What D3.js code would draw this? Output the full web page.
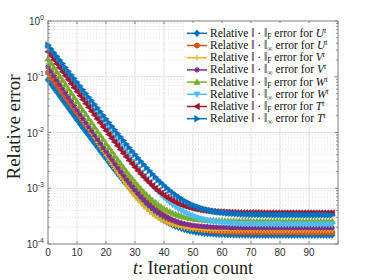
<!DOCTYPE html>
<html>
<head>
<meta charset="utf-8">
<script src="https://cdn.jsdelivr.net/npm/d3@7"></script>
<style>
body { margin:0; background:#fff; }
</style>
</head>
<body>
<div id="chart"></div>
<script>
let chart_width = 374;
let chart_height = 280;

let xTicks = [0,10,20,30,40,50,60,70,80,90];
let yTicks = [1e-4,1e-3,1e-2,1e-1,1];
let yTickExp = ['-4','-3','-2','-1','0'];

// relative errors per iteration t = 0..98
let errUF = [0.088,0.0746,0.0633,0.0537,0.0456,0.0387,0.0328,0.0278,0.0236,0.02,0.017,0.0144,0.0122,0.0104,
  8.95e-3,7.61e-3,6.48e-3,5.52e-3,4.71e-3,4.02e-3,3.43e-3,2.93e-3,2.51e-3,2.15e-3,1.85e-3,1.59e-3,1.37e-3,1.19e-3,
  1.03e-3,8.91e-4,7.78e-4,6.82e-4,6.01e-4,5.32e-4,4.73e-4,4.23e-4,3.81e-4,3.45e-4,3.15e-4,2.89e-4,2.67e-4,2.49e-4,
  2.33e-4,2.2e-4,2.08e-4,1.99e-4,1.91e-4,1.84e-4,1.78e-4,1.73e-4,1.69e-4,1.65e-4,1.62e-4,1.59e-4,1.57e-4,1.55e-4,
  1.54e-4,1.53e-4,1.51e-4,1.5e-4,1.5e-4,1.49e-4,1.48e-4,1.48e-4,1.47e-4,1.47e-4,1.47e-4,1.46e-4,1.46e-4,1.46e-4,
  1.45e-4,1.45e-4,1.45e-4,1.45e-4,1.45e-4,1.45e-4,1.45e-4,1.45e-4,1.45e-4,1.45e-4,1.45e-4,1.45e-4,1.45e-4,1.45e-4,1.45e-4,
  1.45e-4,1.45e-4,1.45e-4,1.45e-4,1.45e-4,1.45e-4,1.45e-4,1.45e-4,1.45e-4,1.45e-4,1.45e-4,1.45e-4,1.45e-4,1.45e-4];

let errUinf = [0.118,0.1,0.0849,0.072,0.0611,0.0518,0.044,0.0373,0.0317,0.0269,0.0228,0.0193,0.0164,0.0139,
  0.012,0.0102,8.65e-3,7.36e-3,6.27e-3,5.34e-3,4.56e-3,3.89e-3,3.33e-3,2.85e-3,2.44e-3,2.09e-3,1.8e-3,1.55e-3,
  1.34e-3,1.16e-3,1.01e-3,8.82e-4,7.73e-4,6.8e-4,6.02e-4,5.35e-4,4.79e-4,4.31e-4,3.9e-4,3.55e-4,3.26e-4,3.01e-4,
  2.8e-4,2.62e-4,2.47e-4,2.34e-4,2.23e-4,2.14e-4,2.06e-4,1.99e-4,1.94e-4,1.89e-4,1.85e-4,1.81e-4,1.78e-4,1.76e-4,
  1.74e-4,1.72e-4,1.7e-4,1.69e-4,1.68e-4,1.67e-4,1.66e-4,1.66e-4,1.65e-4,1.65e-4,1.64e-4,1.64e-4,1.64e-4,1.63e-4,
  1.62e-4,1.62e-4,1.62e-4,1.62e-4,1.62e-4,1.62e-4,1.62e-4,1.62e-4,1.62e-4,1.62e-4,1.62e-4,1.62e-4,1.62e-4,1.62e-4,1.62e-4,
  1.62e-4,1.62e-4,1.62e-4,1.62e-4,1.62e-4,1.62e-4,1.62e-4,1.62e-4,1.62e-4,1.62e-4,1.62e-4,1.62e-4,1.62e-4,1.62e-4];

let errVF = [0.17,0.14,0.116,0.0956,0.0789,0.0651,0.0538,0.0444,0.0366,0.0302,0.025,0.0206,
  0.0172,0.0142,0.0118,9.74e-3,8.07e-3,6.69e-3,5.56e-3,4.62e-3,3.84e-3,3.2e-3,2.68e-3,2.24e-3,
  1.88e-3,1.58e-3,1.33e-3,1.13e-3,9.64e-4,8.26e-4,7.13e-4,6.19e-4,5.41e-4,4.77e-4,4.25e-4,3.81e-4,
  3.45e-4,3.15e-4,2.91e-4,2.71e-4,2.54e-4,2.4e-4,2.29e-4,2.19e-4,2.12e-4,2.05e-4,2e-4,1.96e-4,
  1.92e-4,1.89e-4,1.87e-4,1.85e-4,1.83e-4,1.82e-4,1.8e-4,1.79e-4,1.79e-4,1.78e-4,1.78e-4,1.77e-4,
  1.77e-4,1.76e-4,1.76e-4,
  1.75e-4,1.75e-4,1.75e-4,1.75e-4,1.75e-4,1.75e-4,1.75e-4,1.75e-4,1.75e-4,1.75e-4,1.75e-4,1.75e-4,
  1.75e-4,1.75e-4,1.75e-4,1.75e-4,1.75e-4,1.75e-4,1.75e-4,1.75e-4,1.75e-4,1.75e-4,1.75e-4,1.75e-4,
  1.75e-4,1.75e-4,1.75e-4,1.75e-4,1.75e-4,1.75e-4,1.75e-4,1.75e-4,1.75e-4,1.75e-4,1.75e-4,1.75e-4];

let errVinf = [0.15,0.126,0.105,0.0882,0.0739,0.0619,0.0518,0.0434,0.0364,0.0305,0.0255,0.0214,0.0179,
  0.0152,0.0128,0.0107,9.02e-3,7.59e-3,6.39e-3,5.38e-3,4.54e-3,3.84e-3,3.25e-3,2.75e-3,2.34e-3,1.99e-3,
  1.7e-3,1.45e-3,1.25e-3,1.08e-3,9.34e-4,8.14e-4,7.13e-4,6.29e-4,5.59e-4,5e-4,4.5e-4,4.09e-4,3.74e-4,
  3.45e-4,3.21e-4,3e-4,2.83e-4,2.69e-4,2.57e-4,2.47e-4,2.38e-4,2.31e-4,2.26e-4,2.21e-4,2.16e-4,2.13e-4,
  2.1e-4,2.08e-4,2.06e-4,2.04e-4,2.02e-4,2.01e-4,2e-4,1.99e-4,1.99e-4,1.98e-4,1.98e-4,1.97e-4,1.97e-4,
  1.96e-4,1.96e-4,1.95e-4,1.95e-4,1.95e-4,1.95e-4,1.95e-4,1.95e-4,1.95e-4,1.95e-4,1.95e-4,1.95e-4,
  1.95e-4,1.95e-4,1.95e-4,1.95e-4,1.95e-4,1.95e-4,1.95e-4,1.95e-4,1.95e-4,1.95e-4,1.95e-4,1.95e-4,
  1.95e-4,1.95e-4,1.95e-4,1.95e-4,1.95e-4,1.95e-4,1.95e-4,1.95e-4,1.95e-4,1.95e-4];

let errWF = [0.21,0.176,0.147,0.123,0.103,0.0866,0.0726,0.0608,0.0509,0.0427,0.0357,0.0299,0.0251,
  0.0213,0.0178,0.015,0.0126,0.0106,8.92e-3,7.52e-3,6.34e-3,5.35e-3,4.53e-3,3.83e-3,3.25e-3,2.77e-3,
  2.36e-3,2.01e-3,1.73e-3,1.49e-3,1.29e-3,1.12e-3,9.81e-4,8.63e-4,7.64e-4,6.82e-4,6.12e-4,5.54e-4,5.06e-4,
  4.65e-4,4.31e-4,4.02e-4,3.78e-4,3.58e-4,3.42e-4,3.28e-4,3.16e-4,3.06e-4,2.98e-4,2.91e-4,2.85e-4,2.8e-4,
  2.76e-4,2.73e-4,2.7e-4,2.67e-4,2.65e-4,2.64e-4,2.62e-4,2.61e-4,2.6e-4,2.59e-4,2.59e-4,2.58e-4,2.58e-4,
  2.57e-4,2.57e-4,2.56e-4,2.56e-4,2.56e-4,
  2.55e-4,2.55e-4,2.55e-4,2.55e-4,2.55e-4,2.55e-4,2.55e-4,2.55e-4,2.55e-4,2.55e-4,2.55e-4,2.55e-4,2.55e-4,2.55e-4,2.55e-4,
  2.55e-4,2.55e-4,2.55e-4,2.55e-4,2.55e-4,2.55e-4,2.55e-4,2.55e-4,2.55e-4,2.55e-4,2.55e-4,2.55e-4,2.55e-4,2.55e-4];

let errWinf = [0.33,0.28,0.238,0.202,0.171,0.145,0.123,0.104,0.0885,0.0751,0.0637,0.0541,0.0458,0.0389,
  0.0332,0.0282,0.024,0.0204,0.0173,0.0147,0.0125,0.0107,9.08e-3,7.74e-3,6.6e-3,5.64e-3,4.81e-3,4.12e-3,
  3.53e-3,3.03e-3,2.6e-3,2.24e-3,1.93e-3,1.68e-3,1.46e-3,1.27e-3,1.11e-3,9.76e-4,8.62e-4,7.66e-4,6.83e-4,6.14e-4,
  5.55e-4,5.05e-4,4.63e-4,4.27e-4,3.96e-4,3.7e-4,3.48e-4,3.29e-4,3.14e-4,3e-4,2.89e-4,2.79e-4,2.71e-4,2.64e-4,
  2.58e-4,2.53e-4,2.49e-4,2.45e-4,2.42e-4,2.4e-4,2.37e-4,2.35e-4,2.34e-4,2.33e-4,2.31e-4,2.3e-4,2.3e-4,2.29e-4,
  2.28e-4,2.28e-4,2.27e-4,2.27e-4,2.27e-4,2.26e-4,2.26e-4,2.26e-4,2.26e-4,2.26e-4,2.26e-4,2.25e-4,2.25e-4,2.25e-4,
  2.25e-4,2.25e-4,2.25e-4,2.25e-4,2.25e-4,2.25e-4,2.25e-4,2.25e-4,2.25e-4,2.25e-4,2.25e-4,2.25e-4,2.25e-4,2.25e-4,2.25e-4];

let errTF = [0.28,0.238,0.202,0.171,0.145,0.123,0.104,0.0885,0.0751,0.0637,0.0541,0.0459,0.0389,0.033,
  0.0284,0.0241,0.0205,0.0175,0.0149,0.0127,0.0108,9.21e-3,7.87e-3,6.73e-3,5.77e-3,4.95e-3,4.25e-3,3.66e-3,
  3.16e-3,2.74e-3,2.38e-3,2.07e-3,1.81e-3,1.59e-3,1.4e-3,1.25e-3,1.11e-3,9.97e-4,9.01e-4,8.19e-4,7.49e-4,6.9e-4,
  6.4e-4,5.98e-4,5.62e-4,5.31e-4,5.05e-4,4.83e-4,4.64e-4,4.49e-4,4.35e-4,4.24e-4,4.14e-4,4.06e-4,3.99e-4,3.93e-4,
  3.88e-4,3.84e-4,3.8e-4,3.77e-4,3.75e-4,3.72e-4,3.7e-4,3.69e-4,3.68e-4,3.66e-4,3.65e-4,3.65e-4,3.64e-4,3.63e-4,
  3.63e-4,3.62e-4,3.62e-4,3.62e-4,3.61e-4,3.61e-4,3.61e-4,
  3.6e-4,3.6e-4,3.6e-4,3.6e-4,3.6e-4,3.6e-4,3.6e-4,3.6e-4,3.6e-4,3.6e-4,3.6e-4,
  3.6e-4,3.6e-4,3.6e-4,3.6e-4,3.6e-4,3.6e-4,3.6e-4,3.6e-4,3.6e-4,3.6e-4,3.6e-4];

let errTinf = [0.37,0.317,0.272,0.233,0.2,0.172,0.147,0.126,0.108,0.0929,0.0797,0.0684,0.0586,0.0503,0.0431,
  0.0373,0.0321,0.0276,0.0237,0.0203,0.0175,0.0151,0.013,0.0112,9.62e-3,8.3e-3,7.17e-3,6.19e-3,5.36e-3,4.64e-3,
  4.03e-3,3.5e-3,3.05e-3,2.67e-3,2.33e-3,2.05e-3,1.8e-3,1.59e-3,1.41e-3,1.26e-3,1.13e-3,1.01e-3,9.16e-4,8.33e-4,7.61e-4,
  7e-4,6.47e-4,6.02e-4,5.63e-4,5.3e-4,5.02e-4,4.77e-4,4.56e-4,4.38e-4,4.23e-4,4.1e-4,3.98e-4,3.89e-4,3.8e-4,3.73e-4,
  3.67e-4,3.62e-4,3.57e-4,3.53e-4,3.5e-4,3.47e-4,3.45e-4,3.43e-4,3.41e-4,3.39e-4,3.38e-4,3.37e-4,3.36e-4,3.35e-4,3.34e-4,
  3.34e-4,3.33e-4,3.33e-4,3.32e-4,3.32e-4,3.32e-4,3.31e-4,3.31e-4,3.31e-4,3.31e-4,3.31e-4,3.31e-4,
  3.3e-4,3.3e-4,3.3e-4,3.3e-4,3.3e-4,3.3e-4,3.3e-4,3.3e-4,3.3e-4,3.3e-4,3.3e-4,3.3e-4];

let seriesData = [errUF, errUinf, errVF, errVinf, errWF, errWinf, errTF, errTinf];
let seriesColors = ['#0072BD','#D95319','#EDB120','#7E2F8E','#77AC30','#4DBEEE','#A2142F','#0072BD'];
let seriesMarkers = ['diamond','circle','plus','star','up','down','left','right'];
let legendNorm = ['F','\u221E','F','\u221E','F','\u221E','F','\u221E'];
let legendVar = ['U','U','V','V','W','W','T','T'];

let plot = {left:48, right:338, top:21, bottom:244};

let xScale = d3.scaleLinear().domain([0,100]).range([plot.left, plot.right]);
let yScale = d3.scaleLog().domain([1e-4,1]).range([plot.bottom, plot.top]);

let svg = d3.select('#chart')
    .append('svg')
    .attr('width', chart_width)
    .attr('height', chart_height)
    .style('background','#fff');

function markerPath(type, r){
    if(type==='diamond') return `M0,${-r*1.1}L${r*0.9},0L0,${r*1.1}L${-r*0.9},0Z`;
    if(type==='up') return `M0,${-r}L${r},${r*0.75}L${-r},${r*0.75}Z`;
    if(type==='down') return `M0,${r}L${r},${-r*0.75}L${-r},${-r*0.75}Z`;
    if(type==='left') return `M${-r},0L${r*0.75},${-r}L${r*0.75},${r}Z`;
    if(type==='right') return `M${r},0L${-r*0.75},${-r}L${-r*0.75},${r}Z`;
    if(type==='plus') return `M${-r},0H${r}M0,${-r}V${r}`;
    if(type==='star') return `M${-r},0H${r}M0,${-r}V${r}M${-r*0.7},${-r*0.7}L${r*0.7},${r*0.7}M${-r*0.7},${r*0.7}L${r*0.7},${-r*0.7}`;
    return '';
}

function drawMarker(sel, type, color){
    if(type==='circle'){
        sel.append('circle').attr('r',2.6).attr('fill',color).attr('stroke',color).attr('stroke-width',0.8);
    } else if(type==='plus' || type==='star'){
        sel.append('path').attr('d',markerPath(type,2.8)).attr('fill','none').attr('stroke',color).attr('stroke-width',1.2);
    } else {
        sel.append('path').attr('d',markerPath(type,3.2)).attr('fill',color).attr('stroke',color).attr('stroke-width',0.6);
    }
}

// grid
let grid = svg.append('g').attr('class','grid');
xTicks.concat([100]).forEach(function(t){
    grid.append('line')
        .attr('x1',xScale(t)).attr('x2',xScale(t))
        .attr('y1',plot.top).attr('y2',plot.bottom)
        .attr('stroke','#e3e3e3').attr('stroke-width',1);
});
yTicks.forEach(function(v, i){
    grid.append('line')
        .attr('x1',plot.left).attr('x2',plot.right)
        .attr('y1',yScale(v)).attr('y2',yScale(v))
        .attr('stroke','#e3e3e3').attr('stroke-width',1);
    if(i < yTicks.length-1){
        for(let m=2;m<=9;m++){
            let yy = yScale(v*m);
            grid.append('line')
                .attr('x1',plot.left).attr('x2',plot.right)
                .attr('y1',yy).attr('y2',yy)
                .attr('stroke','#d8d8d8').attr('stroke-width',0.8)
                .attr('stroke-dasharray','1,2');
        }
    }
});

// series
let line = d3.line()
    .x((d,i)=>xScale(i))
    .y(d=>yScale(d));

seriesData.forEach(function(values, s){
    let g = svg.append('g').attr('class','series'+s);
    g.append('path')
        .datum(values)
        .attr('d', line)
        .attr('fill','none')
        .attr('stroke', seriesColors[s])
        .attr('stroke-width',1.5);
    let marks = g.selectAll('g.mk')
        .data(values)
        .enter()
        .append('g')
        .attr('class','mk')
        .attr('transform',(d,i)=>`translate(${xScale(i)},${yScale(d)})`);
    drawMarker(marks, seriesMarkers[s], seriesColors[s]);
});

// axes box and ticks
let axisColor = '#8a8a8a';
svg.append('rect')
    .attr('x',plot.left).attr('y',plot.top)
    .attr('width',plot.right-plot.left).attr('height',plot.bottom-plot.top)
    .attr('fill','none').attr('stroke',axisColor).attr('stroke-width',1);

xTicks.concat([100]).forEach(function(t){
    svg.append('line').attr('x1',xScale(t)).attr('x2',xScale(t))
        .attr('y1',plot.bottom).attr('y2',plot.bottom-3).attr('stroke',axisColor);
    svg.append('line').attr('x1',xScale(t)).attr('x2',xScale(t))
        .attr('y1',plot.top).attr('y2',plot.top+3).attr('stroke',axisColor);
});
xTicks.forEach(function(t){
    svg.append('text')
        .text(t)
        .attr('x',xScale(t))
        .attr('y',plot.bottom+12)
        .attr('text-anchor','middle')
        .attr('fill','#333')
        .style('font-family','"Liberation Sans", Arial, sans-serif')
        .style('font-size','10px');
});

yTicks.forEach(function(v, i){
    [[plot.left,3],[plot.right,-3]].forEach(function(p){
        svg.append('line').attr('x1',p[0]).attr('x2',p[0]+p[1])
            .attr('y1',yScale(v)).attr('y2',yScale(v)).attr('stroke',axisColor);
        if(i < yTicks.length-1){
            for(let m=2;m<=9;m++){
                svg.append('line').attr('x1',p[0]).attr('x2',p[0]+p[1]*0.6)
                    .attr('y1',yScale(v*m)).attr('y2',yScale(v*m)).attr('stroke',axisColor);
            }
        }
    });
    let lab = svg.append('text')
        .attr('x',plot.left-4)
        .attr('y',yScale(v)+4)
        .attr('text-anchor','end')
        .attr('fill','#333')
        .style('font-family','"Liberation Sans", Arial, sans-serif')
        .style('font-size','10px');
    lab.append('tspan').text('10');
    lab.append('tspan').text(yTickExp[i]).attr('dy',-5).style('font-size','7px');
});

// axis labels
let xLab = svg.append('text')
    .attr('x',193)
    .attr('y',274)
    .attr('text-anchor','middle')
    .attr('fill','#222')
    .style('font-family','"Liberation Serif", "Times New Roman", serif')
    .style('font-size','18px');
xLab.append('tspan').text('t').style('font-style','italic');
xLab.append('tspan').text(': Iteration count');

svg.append('text')
    .text('Relative error')
    .attr('transform','translate(20,127) rotate(-90)')
    .attr('text-anchor','middle')
    .attr('fill','#222')
    .style('font-family','"Liberation Serif", "Times New Roman", serif')
    .style('font-size','19px');

// legend
let legend = svg.append('g').attr('class','legend');
legend.append('rect')
    .attr('x',185).attr('y',23)
    .attr('width',148).attr('height',103)
    .attr('fill','#fff');

seriesData.forEach(function(values, s){
    let ly = 33.3 + s*12.2;
    let row = legend.append('g');
    row.append('line')
        .attr('x1',187).attr('x2',207)
        .attr('y1',ly).attr('y2',ly)
        .attr('stroke',seriesColors[s]).attr('stroke-width',1.5);
    let mk = row.append('g').attr('transform',`translate(197,${ly})`);
    drawMarker(mk, seriesMarkers[s], seriesColors[s]);
    let txt = row.append('text')
        .attr('x',210)
        .attr('y',ly+3.5)
        .attr('fill','#111')
        .style('font-family','"Liberation Serif", "Times New Roman", serif')
        .style('font-size','11.5px');
    txt.append('tspan').text('Relative \u2016 \u00B7 \u2016');
    txt.append('tspan').text(legendNorm[s]).attr('dy',2).style('font-size','7.5px');
    txt.append('tspan').text(' error for ').attr('dy',-2);
    txt.append('tspan').text(legendVar[s]).style('font-style','italic');
    txt.append('tspan').text('t').attr('dy',-4).style('font-style','italic').style('font-size','7.5px');
});
</script>
</body>
</html>
